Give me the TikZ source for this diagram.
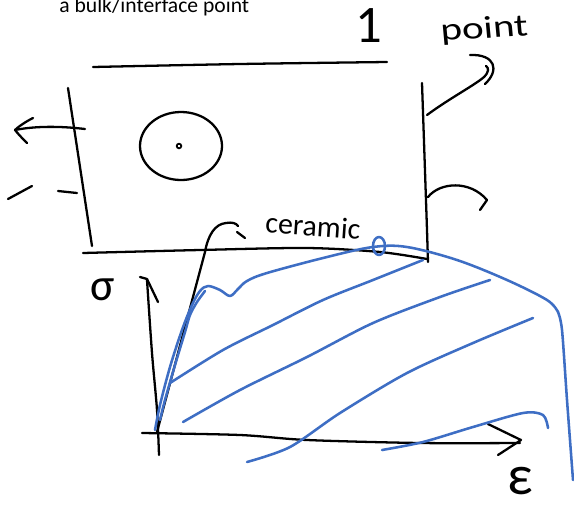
\documentclass[tikz,border=0pt]{standalone}
\usepackage{fontspec}
\setmainfont{Carlito}
\definecolor{blueink}{RGB}{62,110,196}
\begin{document}
\begin{tikzpicture}[x=0.02cm,y=-0.02cm,
  sk/.style={line width=1.3pt,line cap=round,line join=round},
  bl/.style={draw=blueink,line width=1.45pt,line cap=round,line join=round},
  handtext/.style={inner sep=0pt,font=\fontsize{17}{18}\selectfont}]
\useasboundingbox (0,0) rectangle (574,504);
% caption
\node[anchor=base west,inner sep=0pt,font=\fontsize{12.3}{14}\selectfont] (cap) at (59,12) {a bulk/interface point};
% hand labels
\node[handtext,font=\fontsize{30}{30}\selectfont,anchor=base] (one) at (369,42) {1};
\node[handtext,font=\fontsize{18}{20}\selectfont,xscale=1.3,rotate=4,anchor=base] (pt) at (485,38) {point};
\node[handtext,rotate=-4] (cer) at (313,226) {ceramic};
\node[handtext,font=\fontsize{26}{26}\selectfont] (sig) at (103,290) {σ};
\node[handtext,font=\fontsize{32}{32}\selectfont,anchor=base] (eps) at (520,494) {ε};
% box
\draw[sk] plot[smooth] coordinates {(93,67) (240,64) (387,62)};
\draw[sk] (68,88) -- (92,246);
\draw[sk] (422,83) -- (427,230) -- (428,262);
\draw[sk] plot[smooth] coordinates {(83,253) (200,250) (307,248) (380,252) (427,259)};
% circle
\draw[sk] (181,146) ellipse [x radius=41,y radius=34];
\draw[line width=1pt] (179,146) circle [radius=2.3];
% left arrow and dashes
\draw[sk] (85,129) .. controls (60,126) and (35,126) .. (15,130);
\draw[sk] (33,118) .. controls (25,122) and (18,127) .. (15,130) .. controls (19,135) and (23,139) .. (27,143);
\draw[sk] (8,199) -- (32,186);
\draw[sk] (58,191) -- (77,193);
% right arrows
\draw[sk] (427,115) .. controls (450,98) and (475,85) .. (484,77) .. controls (489,72) and (489,68) .. (486,66);
\draw[sk] (470,55) .. controls (495,54) and (500,70) .. (485,84);
\draw[sk] (428,197) .. controls (440,182) and (470,180) .. (487,200) -- (480,210);
% ceramic pointer
\draw[sk] (157,432) -- (205,252) .. controls (208,235) and (215,224) .. (226,223) .. controls (232,222) and (236,223) .. (238,226);
\draw[sk] (237,232) -- (245,238);
% axes
\draw[sk] plot[smooth] coordinates {(159,455) (157,410) (152,353) (147,280)};
\draw[sk] (140,277) -- (147,279) -- (158,302);
\draw[sk] plot[smooth] coordinates {(142,433) (240,435) (307,440) (420,443) (520,443)};
\draw[sk] (488,424) -- (521,440) -- (498,455);
% blue curves
\draw[bl] plot[smooth,tension=0.55] coordinates {(155,430) (160,405) (170,367) (182,330) (192,305) (200,291) (208,286) (220,290) (230,296) (238,289) (247,281) (267,273) (327,257) (373,247) (407,247) (457,260) (507,280) (547,300) (558,312)};
\draw[bl] plot[smooth] coordinates {(558,312) (562,330) (567,400) (573,480)};
\draw[bl] (379,246) ellipse [x radius=6,y radius=9];
\draw[bl] plot[smooth] coordinates {(205,291) (197,302) (190,315) (185,332) (175,365) (165,400) (160,420)};
\draw[bl] plot[smooth] coordinates {(170,383) (223,350) (273,325) (323,300) (373,280) (423,260)};
\draw[bl] plot[smooth] coordinates {(183,422) (240,390) (307,357) (373,323) (440,297) (490,280)};
\draw[bl] plot[smooth] coordinates {(247,462) (290,447) (340,413) (407,373) (473,343) (533,318)};
\draw[bl] plot[smooth] coordinates {(382,450) (423,442) (473,427) (523,413) (543,415) (548,428)};
\end{tikzpicture}
\end{document}
